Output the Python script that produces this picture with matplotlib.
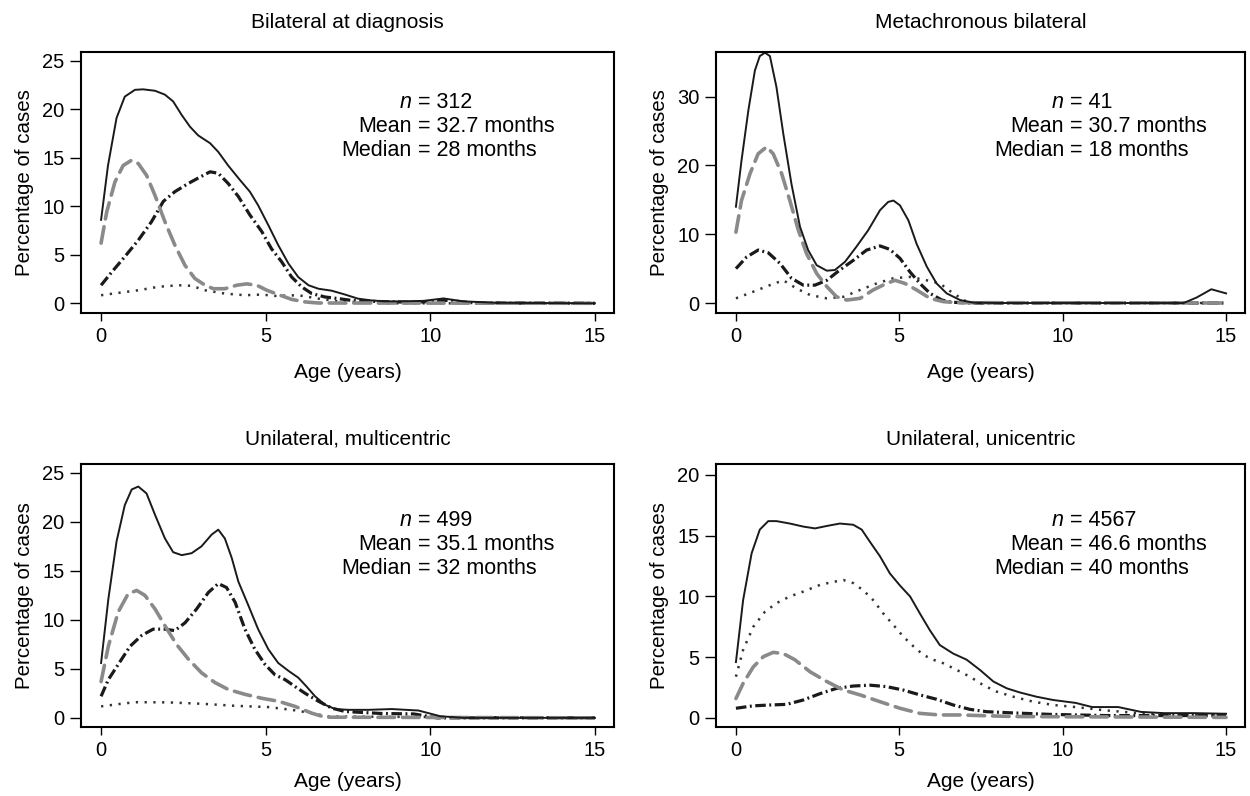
import numpy as np
import matplotlib
matplotlib.use('Agg')
import matplotlib.pyplot as plt

plt.rcParams['font.family'] = ['Liberation Sans', 'DejaVu Sans']

# %%
# Panel 1: bilateral at diagnosis
bd_total_x = [0, 0.21, 0.47, 0.72, 1.03, 1.28, 1.64, 1.94, 2.19, 2.45, 2.7, 2.95, 3.31, 3.56, 3.86, 4.22, 4.52, 4.77, 5.08, 5.38, 5.69, 5.99, 6.3, 6.6, 7.0, 7.41, 7.8, 8.2, 8.6, 9.1, 9.8, 10.4, 11.0, 12, 15]
bd_total = [8.6, 14.2, 19.1, 21.3, 22.0, 22.05, 21.9, 21.5, 20.8, 19.4, 18.2, 17.3, 16.5, 15.6, 14.2, 12.7, 11.5, 10.1, 8.05, 6.0, 4.1, 2.7, 1.86, 1.5, 1.3, 0.9, 0.48, 0.3, 0.2, 0.2, 0.25, 0.5, 0.2, 0.05, 0.0]
bd_gray_x = [0, 0.17, 0.42, 0.67, 0.93, 1.13, 1.38, 1.64, 1.94, 2.24, 2.55, 2.85, 3.16, 3.41, 3.76, 4.12, 4.42, 4.73, 5.03, 5.38, 5.79, 6.2, 6.6, 15]
bd_gray = [6.2, 9.4, 12.5, 14.2, 14.75, 14.4, 13.2, 11.1, 8.4, 6.0, 3.9, 2.55, 1.86, 1.5, 1.5, 1.86, 2.0, 1.86, 1.35, 0.9, 0.4, 0.14, 0.03, 0.0]
bd_dashdot_x = [0, 0.32, 0.72, 1.13, 1.53, 1.89, 2.24, 2.65, 3.0, 3.31, 3.56, 3.86, 4.17, 4.52, 4.88, 5.18, 5.48, 5.79, 6.09, 6.4, 6.8, 7.21, 7.6, 8.2, 9.5, 10.5, 11.3, 15]
bd_dashdot = [1.86, 3.2, 4.8, 6.5, 8.4, 10.5, 11.5, 12.35, 13.0, 13.55, 13.4, 12.35, 11.0, 9.1, 7.4, 5.6, 4.3, 2.7, 1.7, 1.0, 0.65, 0.48, 0.3, 0.2, 0.1, 0.3, 0.05, 0.0]
bd_dot_x = [0, 0.52, 1.13, 1.74, 2.35, 2.75, 3.16, 3.76, 4.37, 4.88, 5.28, 5.99, 6.6, 7.2, 8.5, 15]
bd_dot = [0.83, 1.07, 1.34, 1.7, 1.86, 1.8, 1.34, 1.0, 0.83, 0.9, 0.76, 0.83, 0.48, 0.2, 0.0, 0.0]

# Panel 2: metachronous bilateral
mb_total_x = [0, 0.17, 0.38, 0.58, 0.73, 0.89, 1.04, 1.24, 1.45, 1.7, 1.96, 2.21, 2.47, 2.78, 3.03, 3.34, 3.69, 4.05, 4.41, 4.66, 4.82, 5.02, 5.28, 5.53, 5.84, 6.14, 6.45, 6.86, 7.27, 8, 13.7, 14.1, 14.55, 15]
mb_total = [14.0, 20.7, 28.0, 33.8, 35.9, 36.4, 35.9, 31.4, 24.6, 17.3, 11.1, 7.7, 5.5, 4.7, 4.8, 6.0, 8.2, 10.6, 13.5, 14.7, 14.9, 14.2, 12.0, 8.6, 5.3, 2.85, 1.4, 0.43, 0.05, 0.0, 0.0, 0.8, 2.0, 1.4]
mb_gray_x = [0, 0.17, 0.43, 0.68, 0.94, 1.14, 1.4, 1.65, 1.91, 2.16, 2.47, 2.78, 3.08, 3.39, 3.8, 4.2, 4.61, 4.87, 5.17, 5.53, 5.94, 6.35, 6.75, 15]
mb_gray = [10.3, 14.9, 18.8, 21.7, 22.7, 21.7, 18.8, 14.9, 10.6, 7.2, 4.3, 2.4, 0.9, 0.43, 0.68, 1.9, 2.85, 3.3, 2.85, 1.9, 0.68, 0.2, 0.05, 0.0]
mb_dashdot_x = [0, 0.33, 0.68, 0.99, 1.35, 1.7, 2.06, 2.42, 2.78, 3.18, 3.59, 4.0, 4.41, 4.71, 5.02, 5.33, 5.63, 5.94, 6.3, 6.65, 7.2, 15]
mb_dashdot = [5.0, 6.7, 7.7, 7.3, 5.75, 3.6, 2.6, 2.6, 3.3, 4.8, 6.2, 7.7, 8.3, 7.8, 6.5, 4.5, 2.85, 1.4, 0.43, 0.1, 0.0, 0.0]
mb_dot_x = [0, 0.53, 1.04, 1.45, 1.86, 2.27, 2.78, 3.29, 3.8, 4.31, 4.82, 5.33, 5.84, 6.24, 6.65, 7.06, 7.5, 15]
mb_dot = [0.68, 1.64, 2.6, 3.3, 2.1, 1.16, 0.68, 0.9, 1.9, 2.85, 3.6, 3.8, 3.3, 2.85, 1.4, 0.2, 0.0, 0.0]

# Panel 3: unilateral, multicentric
um_total_x = [0, 0.22, 0.47, 0.72, 0.93, 1.13, 1.38, 1.64, 1.94, 2.19, 2.45, 2.75, 3.05, 3.36, 3.56, 3.76, 3.97, 4.17, 4.47, 4.77, 5.08, 5.38, 5.69, 5.99, 6.24, 6.5, 6.8, 7.11, 7.51, 8.12, 8.83, 9.64, 10.3, 11, 15]
um_total = [5.6, 12.1, 18.0, 21.7, 23.3, 23.6, 22.9, 20.7, 18.3, 16.9, 16.6, 16.8, 17.5, 18.7, 19.2, 18.3, 16.3, 13.9, 11.5, 9.05, 7.0, 5.6, 4.8, 4.1, 3.2, 2.2, 1.34, 0.9, 0.82, 0.82, 0.9, 0.75, 0.17, 0.0, 0.0]
um_gray_x = [0, 0.22, 0.52, 0.82, 1.08, 1.33, 1.64, 1.94, 2.29, 2.65, 3.05, 3.46, 3.86, 4.37, 4.88, 5.38, 5.89, 6.4, 6.8, 15]
um_gray = [3.7, 7.3, 10.8, 12.65, 13.0, 12.5, 11.1, 9.4, 7.5, 6.0, 4.6, 3.6, 2.9, 2.4, 2.0, 1.7, 1.17, 0.48, 0.07, 0.0]
um_dashdot_x = [0, 0.22, 0.52, 0.88, 1.23, 1.58, 1.94, 2.24, 2.55, 2.9, 3.26, 3.56, 3.81, 4.07, 4.37, 4.67, 4.98, 5.28, 5.59, 5.89, 6.2, 6.6, 7.0, 7.41, 8.5, 9.5, 10.2, 15]
um_dashdot = [2.2, 3.9, 5.45, 7.3, 8.4, 9.05, 9.05, 8.9, 9.7, 11.1, 12.8, 13.7, 13.3, 11.8, 9.05, 7.0, 5.45, 4.4, 3.9, 3.2, 2.5, 1.7, 1.0, 0.65, 0.45, 0.4, 0.0, 0.0]
um_dot_x = [0, 0.52, 1.03, 2.04, 3.05, 4.07, 5.08, 5.79, 6.4, 6.9, 15]
um_dot = [1.17, 1.4, 1.6, 1.58, 1.44, 1.23, 1.1, 0.82, 0.48, 0.14, 0.0]

# Panel 4: unilateral, unicentric
uu_total_x = [0, 0.22, 0.48, 0.73, 0.99, 1.24, 1.65, 2.06, 2.42, 2.78, 3.18, 3.59, 3.85, 4.1, 4.41, 4.71, 5.02, 5.33, 5.63, 5.94, 6.24, 6.65, 7.06, 7.47, 7.88, 8.29, 8.69, 9.2, 9.71, 10.4, 10.9, 11.7, 12.4, 13.1, 14.0, 15]
uu_total = [4.6, 9.7, 13.55, 15.5, 16.2, 16.2, 16.0, 15.75, 15.6, 15.8, 16.0, 15.9, 15.5, 14.5, 13.3, 11.9, 10.9, 10.0, 8.6, 7.2, 6.0, 5.3, 4.8, 3.95, 3.0, 2.44, 2.1, 1.75, 1.48, 1.24, 0.9, 0.9, 0.5, 0.4, 0.4, 0.35]
uu_gray_x = [0, 0.22, 0.53, 0.84, 1.14, 1.45, 1.8, 2.27, 2.78, 3.29, 3.8, 4.41, 5.02, 5.63, 6.24, 6.86, 7.47, 8.5, 15]
uu_gray = [1.6, 2.85, 4.2, 5.05, 5.4, 5.3, 4.8, 3.8, 3.0, 2.3, 1.9, 1.34, 0.8, 0.38, 0.25, 0.25, 0.2, 0.12, 0.05]
uu_dashdot_x = [0, 0.53, 1.04, 1.55, 2.06, 2.57, 3.08, 3.59, 4.1, 4.61, 5.12, 5.63, 6.14, 6.65, 7.16, 7.67, 8.29, 9.58, 11.3, 15]
uu_dashdot = [0.8, 1.0, 1.07, 1.12, 1.48, 2.0, 2.44, 2.63, 2.7, 2.58, 2.3, 1.9, 1.54, 1.07, 0.71, 0.52, 0.44, 0.3, 0.2, 0.2]
uu_dot_x = [0, 0.22, 0.53, 0.89, 1.24, 1.65, 2.06, 2.57, 2.98, 3.29, 3.59, 3.9, 4.2, 4.51, 4.82, 5.12, 5.43, 5.73, 6.03, 6.35, 6.76, 7.16, 7.57, 7.98, 8.49, 9.1, 9.71, 10.4, 11.3, 12.5, 15]
uu_dot = [3.4, 5.6, 7.5, 8.75, 9.45, 10.0, 10.4, 10.95, 11.2, 11.35, 11.1, 10.5, 9.7, 8.6, 7.65, 6.7, 5.9, 5.2, 4.8, 4.5, 3.95, 3.4, 2.7, 2.17, 1.75, 1.34, 1.07, 0.9, 0.63, 0.36, 0.2]

titles = ['Bilateral at diagnosis', 'Metachronous bilateral',
          'Unilateral, multicentric', 'Unilateral, unicentric']
n_cases = ['312', '41', '499', '4567']
means = ['32.7', '30.7', '35.1', '46.6']
medians = ['28', '18', '32', '40']
y_ticks = [[0, 5, 10, 15, 20, 25], [0, 10, 20, 30], [0, 5, 10, 15, 20, 25], [0, 5, 10, 15, 20]]
y_lims = [(-1.0, 25.9), (-1.45, 36.5), (-0.93, 25.9), (-0.74, 20.9)]

panels = [
    (bd_total_x, bd_total, bd_gray_x, bd_gray, bd_dashdot_x, bd_dashdot, bd_dot_x, bd_dot),
    (mb_total_x, mb_total, mb_gray_x, mb_gray, mb_dashdot_x, mb_dashdot, mb_dot_x, mb_dot),
    (um_total_x, um_total, um_gray_x, um_gray, um_dashdot_x, um_dashdot, um_dot_x, um_dot),
    (uu_total_x, uu_total, uu_gray_x, uu_gray, uu_dashdot_x, uu_dashdot, uu_dot_x, uu_dot),
]

# axes boxes in figure fractions [left, bottom, width, height]
boxes = [[0.0648, 0.6068, 0.4264, 0.3279], [0.5728, 0.6068, 0.4232, 0.3279],
         [0.0648, 0.0867, 0.4264, 0.3304], [0.5728, 0.0867, 0.4232, 0.3304]]
eq_x = [0.632, 0.670, 0.632, 0.670]
text_y = [[0.805, 0.713, 0.621], [0.805, 0.713, 0.621],
          [0.787, 0.692, 0.601], [0.787, 0.692, 0.601]]

# %%
fig = plt.figure(figsize=(12.5, 7.96), dpi=100)

for i in range(4):
    ax = fig.add_axes(boxes[i])
    tx, tot, gx, gry, dx, dd, ox, dot = panels[i]

    ax.plot(ox, dot, color='#333333', lw=1.8, dashes=[0.9, 2.6])
    ax.plot(dx, dd, color='#1a1a1a', lw=2.3, dashes=[3.3, 1.1, 0.6, 1.1])
    ax.plot(gx, gry, color='#8a8a8a', lw=2.6, dashes=[4.6, 2.2], dash_capstyle='round')
    ax.plot(tx, tot, color='#1a1a1a', lw=1.4)

    ax.set_xlim(-0.61, 15.58)
    ax.set_ylim(*y_lims[i])
    ax.set_xticks([0, 5, 10, 15])
    ax.set_yticks(y_ticks[i])
    ax.tick_params(labelsize=14.5, width=1.0, pad=4, direction='out')
    ax.tick_params(axis='x', length=6)
    ax.tick_params(axis='y', length=8)
    for s in ax.spines.values():
        s.set_linewidth(1.5)

    ax.set_title(titles[i], fontsize=15, pad=17 if i < 2 else 14)
    ax.set_xlabel('Age (years)', fontsize=15, labelpad=12 if i < 2 else 9)
    ax.set_ylabel('Percentage of cases', fontsize=14.8, labelpad=6)

    # n / mean / median block, aligned on the equals sign
    left_txt = ['n', 'Mean', 'Median']
    right_txt = ['= ' + n_cases[i], '= ' + means[i] + ' months', '= ' + medians[i] + ' months']
    for j in range(3):
        ax.text(eq_x[i] - 0.012, text_y[i][j], left_txt[j], transform=ax.transAxes,
                ha='right', va='center', fontsize=15.5, style='italic' if j == 0 else 'normal')
        ax.text(eq_x[i], text_y[i][j], right_txt[j], transform=ax.transAxes,
                ha='left', va='center', fontsize=15.5)

plt.savefig('out.png', dpi=100)
